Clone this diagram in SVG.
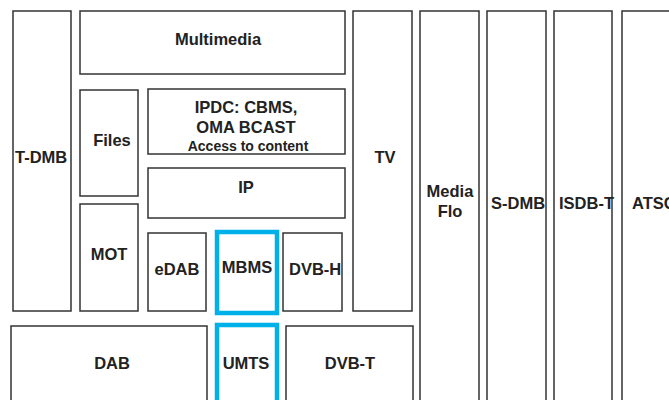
<svg xmlns="http://www.w3.org/2000/svg" width="669" height="400" viewBox="0 0 669 400">
<style>
.b{fill:#fff;stroke:#333;stroke-width:1.5}
.hl{fill:#fff;stroke:#00B0E8;stroke-width:4.5}
text{font-family:"Liberation Sans",Arial,sans-serif;font-weight:bold;font-size:16.5px;fill:#222}
.c{text-anchor:middle}
.s{font-size:14px}
</style>
<rect width="669" height="400" fill="#fff"/>
<g id="tdmb"><rect class="b" x="13" y="11" width="58" height="300"/><text x="15" y="163">T-DMB</text></g>
<g id="multimedia"><rect class="b" x="80" y="11" width="265" height="63"/><text class="c" x="218" y="45">Multimedia</text></g>
<g id="files"><rect class="b" x="80" y="90" width="58" height="106"/><text class="c" x="112" y="146">Files</text></g>
<g id="mot"><rect class="b" x="80" y="204" width="58" height="107"/><text class="c" x="109" y="260">MOT</text></g>
<g id="ipdc"><rect class="b" x="148" y="89" width="197" height="65"/><text class="c" x="246" y="113">IPDC: CBMS,</text><text class="c" x="246" y="133">OMA BCAST</text><text class="c s" x="248" y="151">Access to content</text></g>
<g id="ip"><rect class="b" x="148" y="168" width="197" height="50"/><text class="c" x="246" y="193">IP</text></g>
<g id="edab"><rect class="b" x="148" y="233" width="58" height="78"/><text class="c" x="177" y="275">eDAB</text></g>
<g id="mbms"><rect class="hl" x="217" y="232" width="60" height="81"/><text class="c" x="247" y="273">MBMS</text></g>
<g id="dvbh"><rect class="b" x="283" y="233" width="59" height="78"/><text x="289" y="275">DVB-H</text></g>
<g id="tv"><rect class="b" x="353" y="11" width="59" height="300"/><text class="c" x="385" y="163">TV</text></g>
<g id="mediaflo"><rect class="b" x="420" y="11" width="59" height="400"/><text class="c" x="450" y="197">Media</text><text class="c" x="450" y="217">Flo</text></g>
<g id="sdmb"><rect class="b" x="487" y="11" width="59" height="400"/><text x="491" y="209">S-DMB</text></g>
<g id="isdbt"><rect class="b" x="554" y="11" width="58" height="400"/><text x="559" y="209">ISDB-T</text></g>
<g id="atsc"><rect class="b" x="622" y="11" width="60" height="400"/><text x="632" y="209">ATSC</text></g>
<g id="dab"><rect class="b" x="11" y="326" width="196" height="100"/><text class="c" x="112" y="369">DAB</text></g>
<g id="umts"><rect class="hl" x="217" y="325" width="60" height="100"/><text class="c" x="246" y="369">UMTS</text></g>
<g id="dvbt"><rect class="b" x="286" y="326" width="127" height="100"/><text class="c" x="350" y="369">DVB-T</text></g>
<g id="connectors"/>
</svg>
